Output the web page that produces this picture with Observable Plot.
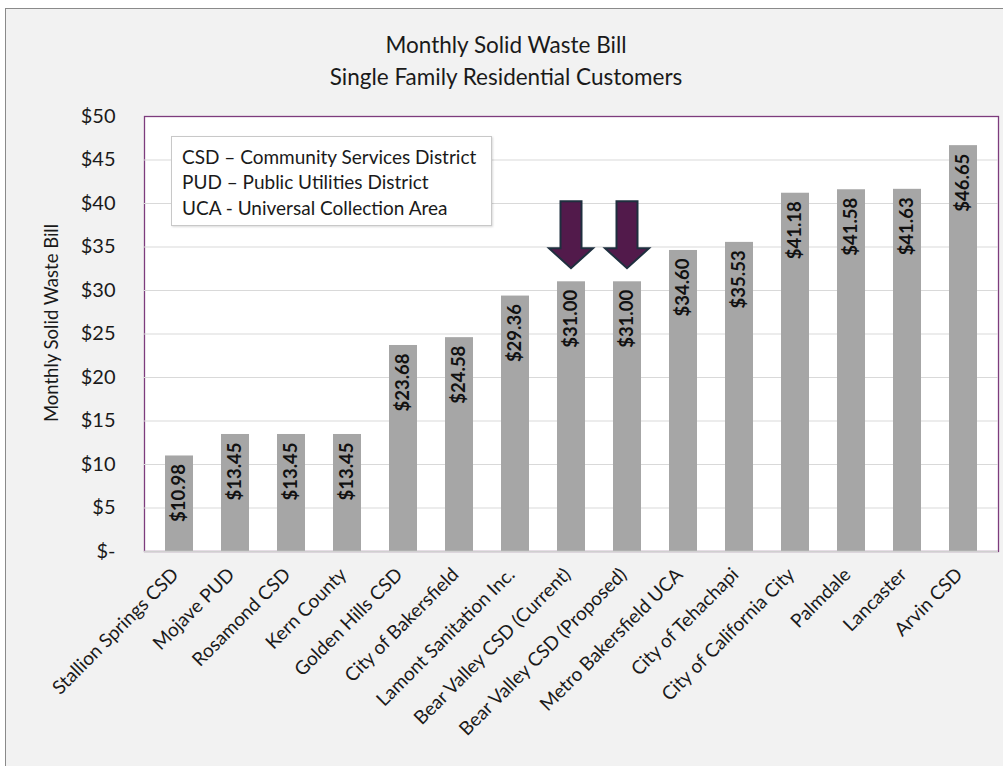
<!DOCTYPE html>
<html>
<head>
<meta charset="utf-8">
<script src="https://cdn.jsdelivr.net/npm/d3@7"></script>
<script src="https://cdn.jsdelivr.net/npm/@observablehq/plot@0.6"></script>
<style>
  html, body { margin: 0; padding: 0; background: #ffffff; }
  #wrap { position: relative; width: 1003px; height: 766px; overflow: hidden; font-family: Lato, "Open Sans", sans-serif; color: #1a1a1a; }
  #panel { position: absolute; left: 5px; top: 8px; width: 1100px; height: 900px; background: #f2f2f2; border: 1px solid #8a8a8a; }
  #title { position: absolute; left: 6px; width: 1000px; top: 29px; text-align: center; font-size: 22.5px; line-height: 32px; }
  #chart { position: absolute; left: 0; top: 0; }
  #legend { position: absolute; left: 171px; top: 136px; width: 309px; height: 76.5px; padding: 6.5px 0 5px 10px; background: #fff; border: 1px solid #c8c8c8; box-shadow: 1px 1px 2px rgba(0,0,0,0.15); font-size: 19px; line-height: 25.5px; }
</style>
</head>
<body>
<div id="wrap">
  <div id="panel"></div>
  <div id="chart"></div>
  <div id="title">Monthly Solid Waste Bill<br>Single Family Residential Customers</div>
  <div id="legend"></div>
</div>
<script>
const categories = [
  "Stallion Springs CSD", "Mojave PUD", "Rosamond CSD", "Kern County", "Golden Hills CSD",
  "City of Bakersfield", "Lamont Sanitation Inc.", "Bear Valley CSD (Current)", "Bear Valley CSD (Proposed)",
  "Metro Bakersfield UCA", "City of Tehachapi", "City of California City", "Palmdale", "Lancaster", "Arvin CSD"
];
const values = [10.98, 13.45, 13.45, 13.45, 23.68, 24.58, 29.36, 31.00, 31.00, 34.60, 35.53, 41.18, 41.58, 41.63, 46.65];
const yTicks = [0, 5, 10, 15, 20, 25, 30, 35, 40, 45, 50];
const legendLines = [
  "CSD \u2013 Community Services District",
  "PUD \u2013 Public Utilities District",
  "UCA - Universal Collection Area"
];
const arrowTargets = ["Bear Valley CSD (Current)", "Bear Valley CSD (Proposed)"];
const arrowTop = 40.2;
const arrowTip = 32.5;
const yLabel = "Monthly Solid Waste Bill";

const data = categories.map((c, i) => ({category: c, value: values[i]}));

document.getElementById("legend").innerHTML = legendLines.map(t => `<div>${t}</div>`).join("");

function arrows(index, scales) {
  const sx = scales.x, sy = scales.y;
  let bw = 0;
  if (typeof sx.bandwidth === "function") bw = sx.bandwidth();
  else if (typeof sx.bandwidth === "number") bw = sx.bandwidth;
  else if (scales.scales && scales.scales.x) bw = scales.scales.x.bandwidth || 0;
  const g = d3.create("svg:g");
  const shaft = 10.5, head = 22, headLen = 20;
  for (const t of arrowTargets) {
    const cx = sx(t) + bw / 2;
    const y0 = sy(arrowTop), y1 = sy(arrowTip), yh = y1 - headLen;
    const pts = [[cx - shaft, y0], [cx + shaft, y0], [cx + shaft, yh], [cx + head, yh], [cx, y1], [cx - head, yh], [cx - shaft, yh]];
    g.append("path")
      .attr("d", "M" + pts.map(p => p.join(",")).join("L") + "Z")
      .attr("fill", "#521a4b")
      .attr("stroke", "#1f2f3f")
      .attr("stroke-width", 2)
      .attr("stroke-linejoin", "miter");
  }
  return g.node();
}

const chart = Plot.plot({
  width: 1003,
  height: 766,
  marginLeft: 144,
  marginRight: 5,
  marginTop: 116,
  marginBottom: 215,
  style: {background: "transparent", fontFamily: "Lato, 'Open Sans', sans-serif", color: "#1a1a1a", overflow: "visible"},
  x: {domain: categories, paddingInner: 0.5, paddingOuter: 0.25, axis: null},
  y: {domain: [0, 50], axis: null},
  marks: [
    Plot.frame({fill: "white", stroke: "#7d3c7d", strokeWidth: 1.3}),
    Plot.gridY(yTicks.filter(t => t > 0 && t < 50), {stroke: "#d9d9d9", strokeOpacity: 1}),
    Plot.barY(data, {x: "category", y: "value", fill: "#a6a6a6"}),
    Plot.ruleY([0], {stroke: "#d0d0d0", strokeWidth: 1.5}),
    Plot.axisY(yTicks, {tickSize: 0, tickPadding: 29, fontSize: 20, label: null, tickFormat: d => d === 0 ? "$-" : "$" + d}),
    Plot.axisX({tickSize: 0, tickRotate: -45, fontSize: 19, label: null, tickPadding: 20, dx: -4}),
    Plot.text(data, {x: "category", y: "value", text: d => "$" + d.value.toFixed(2), rotate: -90, textAnchor: "end", dy: 8, fontWeight: "bold", fontSize: 18.5, fill: "#111"}),
    arrows,
    Plot.text([yLabel], {frameAnchor: "left", text: d => d, rotate: -90, textAnchor: "middle", dx: -92, dy: -11, fontSize: 18.5, fill: "#1a1a1a"})
  ]
});
document.getElementById("chart").appendChild(chart);
</script>
</body>
</html>
